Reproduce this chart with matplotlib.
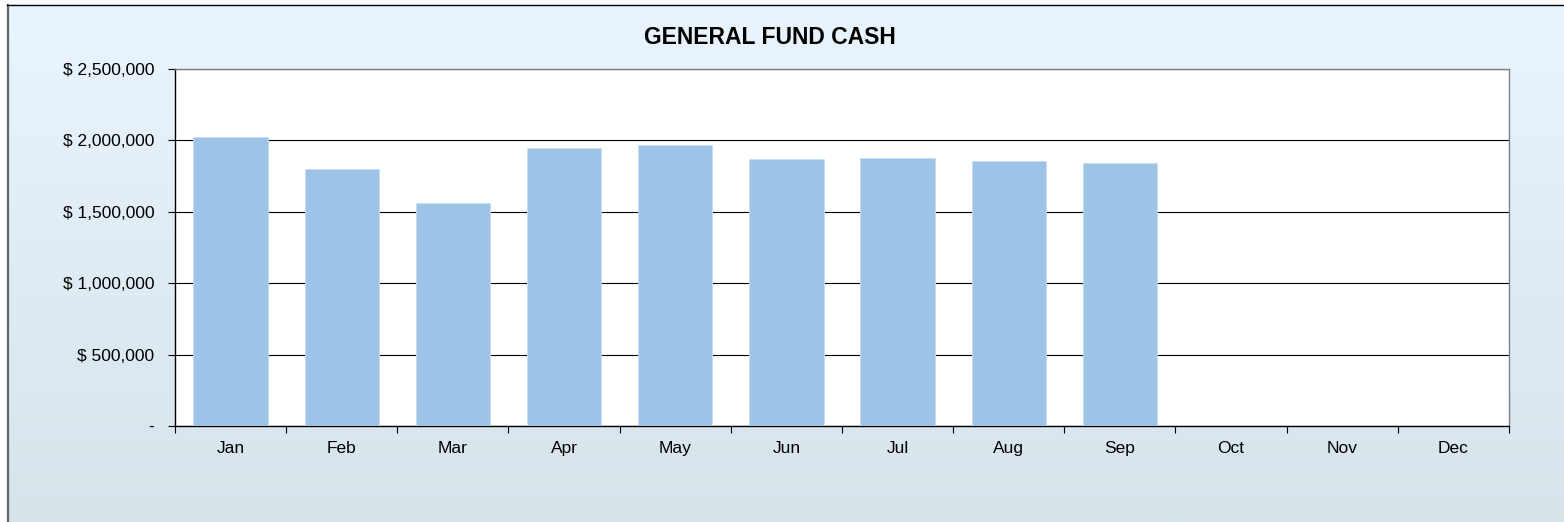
import numpy as np
import matplotlib.pyplot as plt
from matplotlib.lines import Line2D
from matplotlib.ticker import FuncFormatter, FixedLocator

plt.rcParams['font.family'] = ['Liberation Sans', 'DejaVu Sans']

# Data
months = ["Jan", "Feb", "Mar", "Apr", "May", "Jun", "Jul", "Aug", "Sep", "Oct", "Nov", "Dec"]
cash = [2024000, 1800000, 1562000, 1947000, 1968000, 1870000, 1877000, 1856000, 1842000, 0, 0, 0]
y_ticks = [0, 500000, 1000000, 1500000, 2000000, 2500000]

BAR_COLOR = "#9DC3E6"
W, H = 1564, 522

fig = plt.figure(figsize=(W / 100, H / 100), dpi=100)
fig.patch.set_facecolor("white")

# Gradient background (chart area is cropped: starts a few px in from left/top)
bg = fig.add_axes([0, 0, 1, 1], zorder=-10)
top = np.array([0xEA, 0xF4, 0xFE]) / 255
bottom = np.array([0xD6, 0xE4, 0xEA]) / 255
t = np.linspace(0, 1, 256)[:, None]
grad = top * (1 - t) + bottom * t
bg.imshow(grad[:, None, :].repeat(2, axis=1), aspect="auto",
          extent=[7 / W, 1, 0, 1 - 5 / H])
bg.set_xlim(0, 1)
bg.set_ylim(0, 1)
bg.axis("off")
bg.add_line(Line2D([7.5 / W, 7.5 / W], [0, 1 - 5 / H], color="#5F6666", linewidth=1.6))
bg.add_line(Line2D([7 / W, 1], [1 - 5 / H, 1 - 5 / H], color="black", linewidth=1.0))

ax = fig.add_axes([175 / W, 96 / H, 1334 / W, 357 / H])
ax.set_facecolor("white")

x = np.arange(len(months))
ax.bar(x, cash, width=0.67, color=BAR_COLOR, edgecolor="#C9DCF0", linewidth=0.6, zorder=3)

ax.set_xlim(-0.5, len(months) - 0.5)
ax.set_ylim(0, 2500000)

# Y axis
ax.set_yticks(y_ticks)
ax.yaxis.set_major_formatter(FuncFormatter(lambda v, p: "-" if v == 0 else f"$ {v:,.0f}"))
ax.tick_params(axis="y", direction="out", length=5, width=0.8, pad=10, labelsize=12.5, colors="black")
ax.grid(axis="y", color="black", linewidth=0.8, zorder=1)

# X axis: labels at centres, ticks at boundaries
ax.set_xticks(x)
ax.set_xticklabels(months)
ax.tick_params(axis="x", which="major", length=0, pad=11, labelsize=12.5)
ax.xaxis.set_minor_locator(FixedLocator(np.arange(-0.5, len(months), 1)))
ax.tick_params(axis="x", which="minor", direction="out", length=5, width=0.8, color="black")

for side in ["left", "bottom"]:
    ax.spines[side].set_color("black")
    ax.spines[side].set_linewidth(1.0)
for side in ["top", "right"]:
    ax.spines[side].set_color("#808080")
    ax.spines[side].set_linewidth(1.0)

fig.text(770 / W, 1 - 38 / H, "GENERAL FUND CASH", ha="center", va="center",
         fontsize=16.5, fontweight="bold")

fig.savefig("out.png", dpi=100)
